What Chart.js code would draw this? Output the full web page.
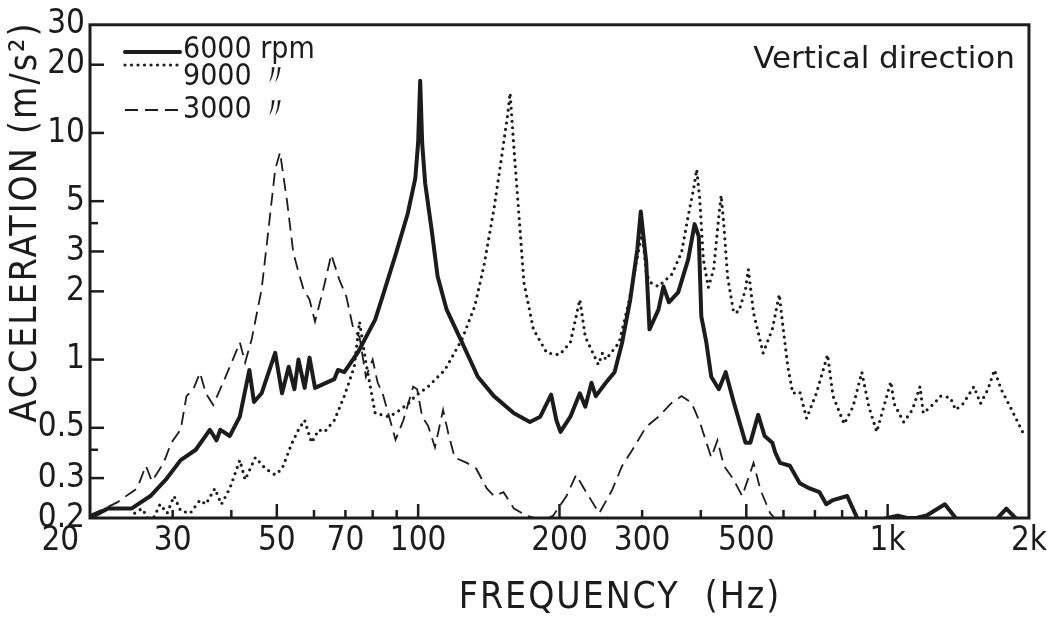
<!DOCTYPE html>
<html>
<head>
<meta charset="utf-8">
<script src="https://cdn.jsdelivr.net/npm/chart.js@4"></script>
<style>
  html, body { margin: 0; padding: 0; background: #fff; }
</style>
</head>
<body>
<canvas id="myChart" width="1051" height="618"></canvas>
<script>
// Acceleration spectra, vertical direction
const freq6000 = [20, 21.8, 24.5, 26.9, 29, 31.2, 33.6, 36, 37.2, 37.9, 39.7, 41.7, 43.7, 44.7, 46.4, 49.6, 51.3, 53, 54.5, 55.6, 57.3, 58.7, 60.3, 66.3, 67.5, 69.6, 74.5, 81, 84, 89.5, 95, 98.6, 100, 101, 102, 103.5, 107, 110, 115, 124, 134, 145, 160, 173, 182, 192, 197, 201, 211, 221, 227, 234, 239, 251, 262, 272, 283, 293, 298, 306, 311, 325, 333, 342, 358, 376, 388, 396, 401, 411, 421, 437, 452, 470, 498, 510, 530, 547, 568, 576, 590, 619, 650, 682, 716, 740, 765, 820, 852, 881, 955, 1000, 1050, 1100, 1150, 1211, 1324, 1396, 1472, 1527, 1636, 1790, 1918, 2000];
const acc6000 = [0.2, 0.22, 0.22, 0.25, 0.295, 0.36, 0.40, 0.49, 0.44, 0.49, 0.46, 0.56, 0.90, 0.65, 0.71, 1.07, 0.71, 0.93, 0.74, 1.0, 0.75, 1.02, 0.75, 0.82, 0.90, 0.88, 1.08, 1.5, 1.9, 2.9, 4.4, 6.3, 9.1, 17, 9, 6, 3.65, 2.33, 1.66, 1.19, 0.84, 0.69, 0.58, 0.53, 0.56, 0.70, 0.54, 0.48, 0.56, 0.71, 0.62, 0.79, 0.69, 0.79, 0.88, 1.19, 1.84, 3.07, 4.5, 2.7, 1.36, 1.66, 2.1, 1.79, 1.98, 2.77, 3.96, 3.5, 1.55, 1.19, 0.84, 0.74, 0.88, 0.65, 0.43, 0.43, 0.57, 0.46, 0.43, 0.39, 0.35, 0.34, 0.285, 0.27, 0.26, 0.23, 0.24, 0.25, 0.21, 0.18, 0.195, 0.2, 0.205, 0.2, 0.2, 0.205, 0.23, 0.2, 0.18, 0.19, 0.18, 0.22, 0.19, 0.18];

const freq9000 = [24.9, 25.8, 27, 28.2, 29.2, 30.2, 31.2, 32.7, 34.3, 35.3, 36.9, 38.1, 39.7, 41.7, 42.8, 45, 47.3, 49.6, 51.3, 53.9, 55.6, 57.3, 59.3, 61.4, 63.2, 66.3, 69.6, 73.1, 75, 77.4, 81, 86.5, 89.5, 95.3, 98.6, 105, 114, 124, 132, 138, 145, 150, 155, 157, 160, 164, 168, 176, 188, 200, 211, 221, 227, 242, 247, 251, 268, 281, 300, 306, 311, 325, 347, 364, 376, 386, 392, 398, 405, 415, 426, 437, 442, 448, 456, 470, 482, 498, 505, 518, 543, 568, 588, 596, 613, 628, 650, 672, 705, 745, 765, 808, 844, 881, 912, 948, 977, 1016, 1032, 1082, 1129, 1172, 1191, 1256, 1296, 1360, 1396, 1449, 1527, 1577, 1636, 1688, 1745, 1838, 1938];
const acc9000 = [0.21, 0.22, 0.19, 0.23, 0.21, 0.25, 0.215, 0.21, 0.24, 0.23, 0.27, 0.23, 0.27, 0.36, 0.295, 0.37, 0.33, 0.31, 0.33, 0.43, 0.49, 0.54, 0.43, 0.49, 0.48, 0.54, 0.69, 0.93, 1.47, 0.97, 0.58, 0.56, 0.58, 0.64, 0.69, 0.76, 0.90, 1.23, 1.72, 2.58, 4.61, 7.4, 11.9, 15, 8.5, 4.3, 2.19, 1.36, 1.07, 1.05, 1.19, 1.84, 1.26, 0.95, 1.07, 1.0, 1.19, 1.79, 3.65, 2.43, 2.2, 2.1, 2.38, 2.97, 4.3, 5.65, 6.9, 5.1, 2.77, 2.08, 2.5, 4.3, 5.3, 3.9, 2.33, 1.61, 1.63, 2.04, 2.5, 1.61, 1.07, 1.36, 1.94, 1.5, 0.93, 0.71, 0.72, 0.55, 0.71, 1.05, 0.69, 0.52, 0.62, 0.88, 0.62, 0.48, 0.60, 0.80, 0.64, 0.53, 0.60, 0.76, 0.58, 0.64, 0.69, 0.68, 0.60, 0.64, 0.76, 0.64, 0.74, 0.90, 0.74, 0.60, 0.48];

const freq3000 = [20, 21.5, 22.9, 24.4, 25.2, 26.3, 27.1, 28.7, 29.8, 31.2, 32.1, 33.2, 34.3, 35.3, 36.6, 38.4, 40.3, 41.7, 42.8, 44.2, 46.4, 48, 49.6, 50.8, 52.6, 54.2, 55.6, 57, 58.7, 60.3, 63, 65.3, 67.9, 70.3, 72.8, 75, 77.4, 80, 82, 84, 89.5, 93, 97.6, 99.5, 102, 105, 108.6, 113, 116, 119.6, 127, 133, 140, 145, 152, 160, 170, 185, 194, 207, 217, 228, 243, 259, 272, 286, 306, 325, 347, 364, 382, 388, 398, 421, 434, 448, 470, 490, 518, 536, 562, 587, 600];
const acc3000 = [0.206, 0.22, 0.235, 0.258, 0.27, 0.34, 0.29, 0.35, 0.43, 0.49, 0.69, 0.74, 0.875, 0.71, 0.63, 0.79, 1.0, 1.19, 0.97, 1.23, 2.04, 3.76, 6.9, 8.2, 4.95, 2.97, 2.43, 2.04, 1.84, 1.47, 2.1, 2.91, 2.26, 1.9, 1.36, 1.26, 0.84, 1.0, 0.79, 0.71, 0.443, 0.54, 0.76, 0.74, 0.56, 0.51, 0.41, 0.60, 0.47, 0.37, 0.35, 0.33, 0.27, 0.25, 0.26, 0.22, 0.205, 0.195, 0.205, 0.25, 0.31, 0.26, 0.21, 0.266, 0.34, 0.40, 0.505, 0.56, 0.645, 0.69, 0.645, 0.60, 0.53, 0.37, 0.44, 0.34, 0.295, 0.25, 0.35, 0.266, 0.21, 0.19, 0.18];

const xTicks = [20, 30, 50, 70, 100, 200, 300, 500, 1000, 2000];
const xTickLabels = ['20', '30', '50', '70', '100', '200', '300', '500', '1k', '2k'];
const yTicks = [0.2, 0.3, 0.5, 1, 2, 3, 5, 10, 20, 30];
const yTickLabels = ['0.2', '0.3', '0.5', '1', '2', '3', '5', '10', '20', '30'];
const xInnerTicks = [30, 40, 50, 60, 70, 80, 90, 100, 200, 300, 400, 500, 600, 700, 800, 900, 1000];
const xLongTicks = [50, 100, 200, 500, 1000];
const yInnerTicks = [0.3, 0.4, 0.5, 1, 2, 3, 4, 5, 10, 20];
const yShortTicks = [0.4, 4];
const seriesNames = ['6000 rpm', '9000 \u3003', '3000 \u3003'];

const FONT = '"Liberation Sans Narrow", "DejaVu Sans Condensed", "Liberation Sans", sans-serif';
const INK = '#1c1c1c';

function toPoints(xs, ys) {
  return xs.map((x, i) => ({ x: x, y: ys[i] }));
}

// frame, inward ticks, legend, axis titles and the note
const decorations = {
  id: 'decorations',
  afterDatasetsDraw(chart) {
    const { ctx, chartArea: a, scales: { x, y } } = chart;
    ctx.save();
    ctx.strokeStyle = INK;
    ctx.fillStyle = INK;

    ctx.lineWidth = 3;
    ctx.strokeRect(a.left, a.top, a.right - a.left, a.bottom - a.top);

    ctx.lineWidth = 2.5;
    xInnerTicks.forEach(v => {
      const px = x.getPixelForValue(v);
      const len = xLongTicks.includes(v) ? 14 : 8;
      ctx.beginPath();
      ctx.moveTo(px, a.bottom);
      ctx.lineTo(px, a.bottom - len);
      ctx.stroke();
    });
    yInnerTicks.forEach(v => {
      const py = y.getPixelForValue(v);
      const len = yShortTicks.includes(v) ? 8 : 14;
      ctx.beginPath();
      ctx.moveTo(a.left, py);
      ctx.lineTo(a.left + len, py);
      ctx.stroke();
    });

    // legend, top left inside the frame
    const lineRows = [52, 65, 110];
    const textRows = [50, 77, 110];
    ctx.font = '30px ' + FONT;
    ctx.textBaseline = 'middle';
    ctx.textAlign = 'left';
    chart.data.datasets.forEach((ds, i) => {
      ctx.save();
      ctx.lineWidth = ds.borderWidth;
      ctx.lineCap = ds.borderCapStyle || 'butt';
      ctx.setLineDash(ds.borderDash || []);
      ctx.beginPath();
      ctx.moveTo(a.left + 35, lineRows[i]);
      ctx.lineTo(a.left + 90, lineRows[i]);
      ctx.stroke();
      ctx.restore();
      ctx.fillText(seriesNames[i], a.left + 93, textRows[i]);
    });

    ctx.font = '31px "DejaVu Sans", sans-serif';
    ctx.textAlign = 'right';
    ctx.fillText('Vertical direction', a.right - 14, 60);

    // axis titles
    ctx.font = '37px ' + FONT;
    ctx.textAlign = 'center';
    ctx.letterSpacing = '2px';
    ctx.fillText('FREQUENCY  (Hz)', 620, 598);
    ctx.translate(26, 222);
    ctx.rotate(-Math.PI / 2);
    ctx.fillText('ACCELERATION (m/s\u00B2)', 0, 0);
    ctx.restore();
  }
};

const ctx = document.getElementById('myChart').getContext('2d');
new Chart(ctx, {
  type: 'line',
  data: {
    datasets: [{
      label: seriesNames[0],
      data: toPoints(freq6000, acc6000),
      borderColor: INK,
      borderWidth: 4,
      borderJoinStyle: 'round',
      borderCapStyle: 'round'
    }, {
      label: seriesNames[1],
      data: toPoints(freq9000, acc9000),
      borderColor: INK,
      borderWidth: 3.2,
      borderDash: [0, 6.5],
      borderCapStyle: 'round'
    }, {
      label: seriesNames[2],
      data: toPoints(freq3000, acc3000),
      borderColor: INK,
      borderWidth: 1.8,
      borderDash: [13, 7]
    }]
  },
  options: {
    responsive: false,
    animation: false,
    layout: { padding: { top: 24, right: 22, left: 0, bottom: 0 } },
    elements: { point: { radius: 0 }, line: { tension: 0 } },
    plugins: { legend: { display: false }, tooltip: { enabled: false } },
    scales: {
      x: {
        type: 'logarithmic',
        min: 20,
        max: 2000,
        afterBuildTicks: s => { s.ticks = xTicks.map(v => ({ value: v })); },
        afterFit: s => { s.height = 100; },
        grid: { display: false, drawTicks: false },
        border: { display: false },
        ticks: {
          autoSkip: false,
          maxRotation: 0,
          padding: 4,
          color: INK,
          font: { family: FONT, size: 33 },
          callback: v => {
            const i = xTicks.indexOf(v);
            return i === 0 ? xTickLabels[i] + '\u2003\u2003' : xTickLabels[i];
          }
        }
      },
      y: {
        type: 'logarithmic',
        min: 0.2,
        max: 30,
        afterBuildTicks: s => { s.ticks = yTicks.map(v => ({ value: v })); },
        afterFit: s => { s.width = 90; },
        grid: { display: false, drawTicks: false },
        border: { display: false },
        ticks: {
          autoSkip: false,
          padding: 5,
          color: INK,
          font: { family: FONT, size: 33 },
          callback: v => yTickLabels[yTicks.indexOf(v)]
        }
      }
    }
  },
  plugins: [decorations]
});
</script>
</body>
</html>
